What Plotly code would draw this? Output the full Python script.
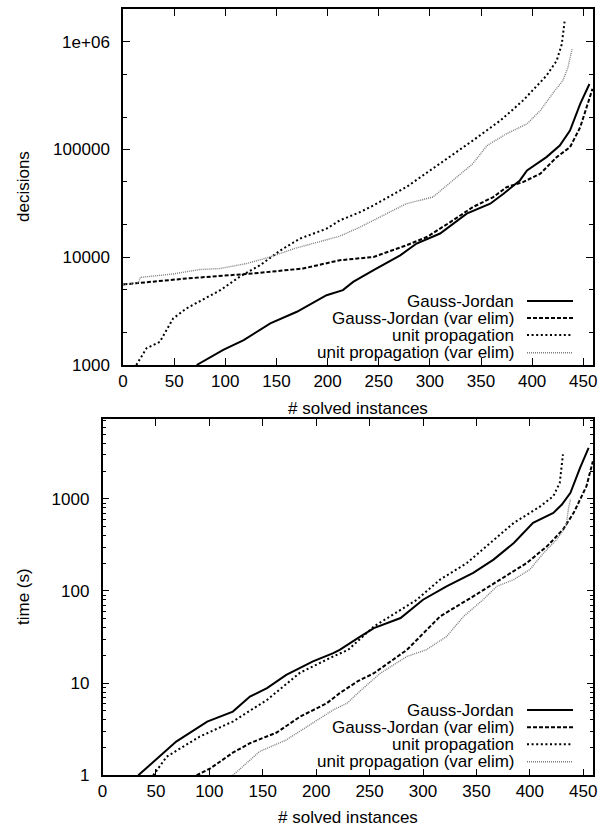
import plotly.graph_objects as go
import math

# ---------------- data ----------------
series_names = ["Gauss-Jordan", "Gauss-Jordan (var elim)", "unit propagation", "unit propagation (var elim)"]

# Top panel: decisions
dec_gj_n = [72, 98, 118, 144, 170, 199, 215, 225, 245, 271, 287, 310, 336, 359, 372, 388, 395, 414, 427, 437, 447, 456]
dec_gj_v = [1000, 1380, 1700, 2430, 3120, 4440, 4950, 5900, 7590, 10400, 13400, 16600, 25400, 31400, 38900, 51600, 64000, 85000, 109000, 150000, 265000, 405000]

dec_gjve_n = [0, 62, 127, 176, 212, 232, 245, 277, 297, 320, 342, 362, 375, 391, 408, 424, 437, 447, 459]
dec_gjve_v = [5590, 6350, 7070, 7860, 9380, 9720, 10070, 12900, 15400, 21200, 29200, 36200, 44700, 49800, 59600, 85000, 105000, 161000, 365000]

dec_up_n = [13, 23, 36, 49, 62, 75, 95, 114, 134, 154, 173, 199, 212, 232, 245, 277, 310, 342, 369, 391, 414, 424, 429, 432]
dec_up_v = [1000, 1430, 1640, 2700, 3350, 3900, 4940, 6580, 8430, 11600, 14900, 18400, 22000, 26300, 30300, 44800, 73800, 121000, 186000, 284000, 484000, 667000, 950000, 1620000]

dec_upve_n = [0, 15, 17, 49, 75, 95, 121, 144, 167, 186, 212, 232, 245, 277, 303, 320, 342, 356, 375, 395, 408, 421, 430, 435, 439]
dec_upve_v = [5590, 5800, 6500, 7000, 7690, 7860, 8750, 10070, 12000, 13400, 15700, 19100, 22000, 31400, 36200, 49800, 73800, 109000, 140000, 173000, 230000, 340000, 435000, 578000, 855000]

# Bottom panel: time (s)
t_gj_n = [33.5, 48, 69, 98, 122, 138, 154, 172, 197, 216, 222, 239, 254, 279, 300, 322, 347, 366, 385, 403, 422, 430, 438, 447, 455]
t_gj_v = [1, 1.41, 2.32, 3.83, 4.91, 7.15, 8.83, 12.3, 17.2, 21.2, 23.0, 30.8, 39.6, 50.9, 80.4, 112, 157, 219, 332, 548, 704, 867, 1160, 2170, 3580]

t_gjve_n = [88, 101, 122, 138, 163, 185, 210, 222, 239, 254, 285, 316, 347, 372, 397, 416, 431, 441, 453, 459]
t_gjve_v = [1, 1.19, 1.76, 2.23, 2.91, 4.33, 6.06, 7.79, 10.5, 12.8, 23.0, 53, 87.4, 133, 201, 305, 464, 704, 1370, 2560]

t_up_n = [47.5, 60, 91, 122, 154, 185, 216, 230, 254, 294, 316, 341, 363, 385, 410, 422, 428, 431]
t_up_v = [1, 1.59, 2.63, 3.83, 6.58, 13, 19.5, 23, 41.2, 80, 133, 201, 332, 548, 832, 1070, 1490, 3030]

t_upve_n = [122, 147, 172, 197, 216, 229, 240, 260, 285, 303, 322, 338, 356, 369, 385, 400, 413, 425, 434, 436, 438]
t_upve_v = [1, 1.81, 2.42, 3.67, 5.13, 6.06, 8.0, 12.8, 19.5, 23, 32, 53, 80, 112, 133, 171, 259, 361, 504, 765, 982]

x_ticks = [0, 50, 100, 150, 200, 250, 300, 350, 400, 450]
dec_ticks = [1000, 10000, 100000, 1000000]
dec_ticktext = ["1000", "10000", "100000", "1e+06"]
time_ticks = [1, 10, 100, 1000]
time_ticktext = ["1", "10", "100", "1000"]

# ---------------- styling ----------------
W, H = 608, 827
FONT = "Liberation Sans, Arial, Helvetica, sans-serif"
FS = 17
styles = [
    dict(color="black", width=2, dash="solid"),
    dict(color="black", width=2, dash="4px,2px"),
    dict(color="black", width=2, dash="2px,2.6px"),
    dict(color="rgb(125,125,125)", width=1.4, dash="1px,1px"),
]

def px_x(p):
    return p / W

def px_y(p):
    return 1 - p / H

fig = go.Figure()

top = [(dec_gj_n, dec_gj_v), (dec_gjve_n, dec_gjve_v), (dec_up_n, dec_up_v), (dec_upve_n, dec_upve_v)]
bot = [(t_gj_n, t_gj_v), (t_gjve_n, t_gjve_v), (t_up_n, t_up_v), (t_upve_n, t_upve_v)]

for i, (xs, ys) in enumerate(top):
    fig.add_trace(go.Scatter(x=xs, y=ys, mode="lines", line=styles[i], name=series_names[i],
                             showlegend=False, xaxis="x", yaxis="y"))
for i, (xs, ys) in enumerate(bot):
    fig.add_trace(go.Scatter(x=xs, y=ys, mode="lines", line=styles[i], name=series_names[i],
                             showlegend=False, xaxis="x2", yaxis="y2"))

dec_minor = [m * 10 ** e for e in range(3, 7) for m in (2, 5) if m * 10 ** e <= 2e6]
time_minor = [m * 10 ** e for e in range(0, 4) for m in range(2, 10) if m * 10 ** e <= 7300]

axis_common = dict(showgrid=False, zeroline=False, showline=True, linecolor="black", linewidth=1.5,
                   mirror="ticks", ticks="inside", ticklen=7, tickwidth=1, tickcolor="black",
                   tickfont=dict(family=FONT, size=FS, color="black"), automargin=False)

fig.update_layout(
    width=W, height=H,
    margin=dict(l=0, r=0, t=0, b=0),
    paper_bgcolor="white", plot_bgcolor="white",
    font=dict(family=FONT, size=FS, color="black"),
    xaxis=dict(domain=[px_x(123), px_x(593)], range=[0, 459.5], anchor="y",
               tickvals=x_ticks, ticklabelstandoff=0, **axis_common),
    yaxis=dict(domain=[px_y(365), px_y(9.3)], type="log", range=[3, math.log10(2e6)], anchor="x",
               tickvals=dec_ticks, ticktext=dec_ticktext, ticklabelstandoff=8,
               minor=dict(tickvals=dec_minor, ticks="inside", ticklen=4, tickcolor="black"),
               **axis_common),
    xaxis2=dict(domain=[px_x(102.5), px_x(593.3)], range=[0, 459.4], anchor="y2",
                tickvals=x_ticks, ticklabelstandoff=0, **axis_common),
    yaxis2=dict(domain=[px_y(775.3), px_y(419.3)], type="log", range=[0, 3.863], anchor="x2",
                tickvals=time_ticks, ticktext=time_ticktext, ticklabelstandoff=8,
                minor=dict(tickvals=time_minor, ticks="inside", ticklen=4, tickcolor="black"),
                **axis_common),
)

annotations = []
shapes = []
title_font = dict(family=FONT, size=FS, color="black")
# axis titles
annotations.append(dict(text="decisions", x=px_x(23), y=px_y(187), xref="paper", yref="paper",
                        xanchor="center", yanchor="middle",
                        textangle=-90, showarrow=False, font=title_font))
annotations.append(dict(text="time (s)", x=px_x(23), y=px_y(597), xref="paper", yref="paper",
                        xanchor="center", yanchor="middle",
                        textangle=-90, showarrow=False, font=title_font))
annotations.append(dict(text="# solved instances", x=px_x(358), y=px_y(408.5), xref="paper", yref="paper",
                        xanchor="center", yanchor="middle", showarrow=False, font=title_font))
annotations.append(dict(text="# solved instances", x=px_x(348), y=px_y(817.5), xref="paper", yref="paper",
                        xanchor="center", yanchor="middle", showarrow=False, font=title_font))

# manual legends (text right-aligned, key sample on the right, as in the original)
for rows in ([301, 318, 335, 352.7], [710, 727.3, 744.3, 761.7]):
    for i, ry in enumerate(rows):
        annotations.append(dict(text=series_names[i], x=px_x(516), y=px_y(ry), xref="paper", yref="paper",
                                xanchor="right", yanchor="middle", showarrow=False, font=title_font))
        shapes.append(dict(type="line", xref="paper", yref="paper",
                           x0=px_x(527), x1=px_x(573), y0=px_y(ry), y1=px_y(ry),
                           line=styles[i]))

fig.update_layout(annotations=annotations, shapes=shapes)
fig.write_html("out.html", config={"displayModeBar": False},
               post_script="document.body.style.margin='0';document.body.style.overflow='hidden';")
